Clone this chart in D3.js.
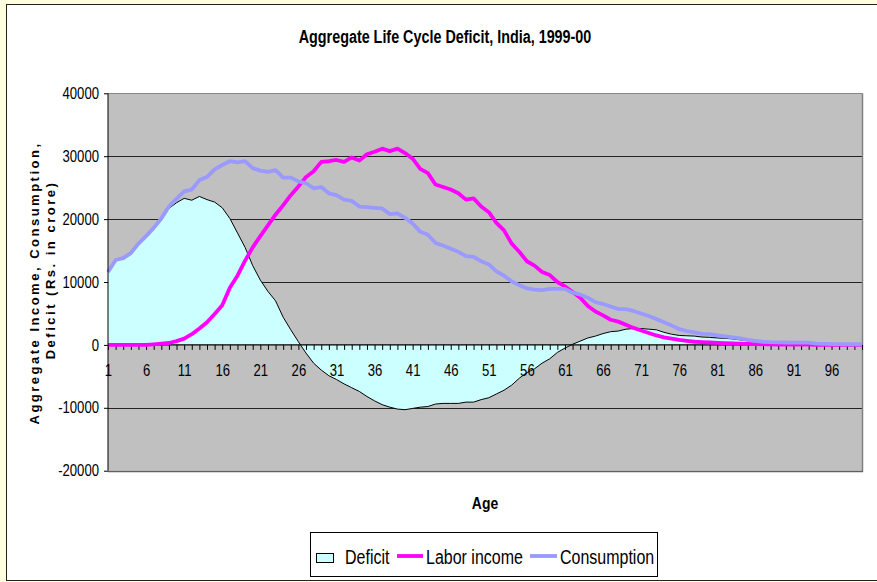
<!DOCTYPE html>
<html>
<head>
<meta charset="utf-8">
<script src="https://cdn.jsdelivr.net/npm/d3@7"></script>
<style>
  html, body { margin: 0; padding: 0; background: #FFFFE0; }
  svg { display: block; }
</style>
</head>
<body>
<svg id="chart" width="877" height="582"></svg>
<script>
const ages = d3.range(1, 101);
const deficit = [11600,13500,13800,14600,16100,17300,18500,19900,21700,22600,
  23300,23000,23600,23100,22700,21800,20100,17800,15500,12600,
  10300,8500,7000,4400,2400,500,-1300,-2900,-4000,-4900,
  -5500,-6200,-6800,-7400,-8200,-8900,-9500,-9900,-10200,-10300,
  -10100,-9900,-9800,-9400,-9300,-9300,-9300,-9100,-9100,-8700,
  -8400,-7800,-7200,-6400,-5300,-4400,-3800,-2900,-2200,-1200,
  -500,100,600,1100,1400,1800,2100,2200,2500,2600,
  2600,2500,2400,2000,1700,1500,1450,1400,1250,1200,
  1100,1050,950,800,650,500,400,350,330,330,
  330,330,320,180,130,110,100,90,90,90];
const laborIncome = [0,0,0,0,0,0,100,200,300,600,
  1000,1700,2600,3600,4900,6300,9100,11000,13400,15500,
  17300,19000,20700,22200,23800,25200,26700,27600,29100,29200,
  29400,29100,29800,29300,30300,30700,31200,30800,31200,30500,
  29600,28000,27300,25500,25100,24700,24100,23100,23300,22000,
  21100,19400,18200,16100,14800,13300,12600,11600,11100,10000,
  9300,8400,7500,6200,5300,4700,4000,3700,3200,2700,
  2300,1900,1500,1200,1000,800,650,500,450,380,
  320,280,230,200,150,120,100,80,60,50,
  40,30,30,20,20,10,10,10,5,5];
const consumption = [11600,13500,13800,14600,16100,17300,18600,20100,22000,23200,
  24400,24700,26200,26700,27900,28600,29200,29000,29200,28100,
  27700,27500,27800,26600,26600,26000,25700,24900,25100,24100,
  23800,23100,22900,22000,21900,21800,21700,20800,20900,20200,
  19300,18000,17500,16200,15800,15300,14800,14100,14000,13300,
  12800,11700,11000,10100,9500,9000,8800,8700,8900,8900,
  8900,8300,8000,7500,6800,6500,6100,5700,5700,5400,
  5000,4600,4100,3600,3100,2500,2200,2000,1750,1700,
  1500,1350,1200,1050,800,650,500,430,400,380,
  370,370,350,200,150,120,110,100,100,100];
const yTicks = [-20000,-10000,0,10000,20000,30000,40000];
const xLabels = [1,6,11,16,21,26,31,36,41,46,51,56,61,66,71,76,81,86,91,96];
const seriesNames = ["Deficit","Labor income","Consumption"];
const titleText = "Aggregate Life Cycle Deficit, India, 1999-00";
const yTitle = ["Aggregate Income, Consumption,", "Deficit (Rs. in crore)"];
const xTitle = "Age";

const FONT = "'Liberation Sans',Arial,sans-serif";
const SX = 0.82; // horizontal condensing to mimic a narrow face
const svg = d3.select("#chart");

// outer chart area
svg.append("rect").attr("x",0).attr("y",0).attr("width",877).attr("height",582).attr("fill","#FFFFE0");
svg.append("rect").attr("x",6.5).attr("y",4.5).attr("width",880).attr("height",576)
  .attr("fill","#fff").attr("stroke","#222").attr("stroke-width",1);

const L = 108, R = 862, T = 93.3, B = 470.7;
const x = d3.scalePoint().domain(ages).range([L, R]);
const y = d3.scaleLinear().domain([-20000, 40000]).range([B, T]);

// plot background
svg.append("rect").attr("x",L).attr("y",T).attr("width",R-L).attr("height",B-T).attr("fill","#C0C0C0");

// gridlines
svg.append("g").selectAll("line").data(yTicks.filter(v => v !== 0 && v !== 40000 && v !== -20000)).join("line")
  .attr("x1",L).attr("x2",R).attr("y1",d=>Math.round(y(d))+0.5).attr("y2",d=>Math.round(y(d))+0.5)
  .attr("stroke","#222").attr("stroke-width",1);
// plot border top/right/bottom
svg.append("line").attr("x1",L).attr("x2",R).attr("y1",Math.round(T)+0.5).attr("y2",Math.round(T)+0.5).attr("stroke","#888");
svg.append("line").attr("x1",R+0.5).attr("x2",R+0.5).attr("y1",T).attr("y2",B+1).attr("stroke","#808080").attr("stroke-width",1.5);
svg.append("line").attr("x1",L).attr("x2",R+1).attr("y1",Math.round(B)+0.5).attr("y2",Math.round(B)+0.5).attr("stroke","#606060").attr("stroke-width",1.5);

// deficit area
const area = d3.area().x((d,i)=>x(ages[i])).y0(y(0)).y1(d=>y(d));
svg.append("path").datum(deficit).attr("d",area).attr("fill","#CCFFFF");
const line = d3.line().x((d,i)=>x(ages[i])).y(d=>y(d));
svg.append("path").datum(deficit).attr("d",line).attr("fill","none").attr("stroke","#000").attr("stroke-width",1);

// x axis at zero
const xAxis = d3.axisBottom(x).tickSize(5).tickPadding(15)
  .tickFormat(d => xLabels.includes(d) ? d : "");
const gx = svg.append("g").attr("transform",`translate(0,${y(0)})`).call(xAxis);
gx.select(".domain").attr("stroke","#000").attr("stroke-width",1.2).attr("d",`M${L},0H${R}`);
gx.selectAll(".tick line").attr("stroke","#000");
gx.selectAll("text").attr("font-family",FONT).attr("font-size","16px").attr("fill","#000")
  .attr("transform",`scale(${SX},1)`);

// lines
svg.append("path").datum(laborIncome).attr("d",line).attr("fill","none")
  .attr("stroke","#FF00FF").attr("stroke-width",3.8).attr("stroke-linejoin","round");
svg.append("path").datum(consumption).attr("d",line).attr("fill","none")
  .attr("stroke","#9999FF").attr("stroke-width",3.8).attr("stroke-linejoin","round");

// y axis
const yAxis = d3.axisLeft(y).tickValues(yTicks).tickSize(4).tickPadding(7).tickFormat(d=>d);
const gy = svg.append("g").attr("transform",`translate(${L},0)`).call(yAxis);
gy.select(".domain").attr("stroke","#000").attr("d",`M0,${T}V${B}`);
gy.selectAll(".tick line").attr("stroke","#000");
gy.selectAll("text").attr("font-family",FONT).attr("font-size","16px").attr("fill","#000")
  .attr("transform",`scale(${SX},1)`);

function narrowText(xp, yp, txt, size, weight, anchor) {
  return svg.append("text").attr("transform",`translate(${xp},${yp}) scale(${SX},1)`)
    .attr("text-anchor",anchor||"start").attr("font-family",FONT)
    .attr("font-weight",weight||"normal").attr("font-size",size).attr("fill","#000").text(txt);
}
// titles
narrowText(445, 43, titleText, "17.5px", "bold", "middle");
narrowText(485, 509, xTitle, "17px", "bold", "middle");
const yt = [[39,283],[55,270]];
yTitle.forEach((t,i)=>{
  svg.append("text").attr("transform",`translate(${yt[i][0]},${yt[i][1]}) rotate(-90)`)
    .attr("text-anchor","middle").attr("font-family",FONT)
    .attr("font-weight","bold").attr("font-size","13px").attr("letter-spacing","2.5px").text(t);
});

// legend
const lg = svg.append("g");
lg.append("rect").attr("x",310.5).attr("y",532.5).attr("width",347).attr("height",44)
  .attr("fill","#fff").attr("stroke","#000");
lg.append("rect").attr("x",316.5).attr("y",553.5).attr("width",17).attr("height",9)
  .attr("fill","#CCFFFF").attr("stroke","#000");
lg.append("line").attr("x1",397).attr("x2",423).attr("y1",556).attr("y2",556).attr("stroke","#FF00FF").attr("stroke-width",3.8);
lg.append("line").attr("x1",530).attr("x2",557).attr("y1",556).attr("y2",556).attr("stroke","#9999FF").attr("stroke-width",3.8);
const legX = [345, 426, 560];
seriesNames.forEach((n,i)=>{ narrowText(legX[i], 564, n, "19.5px"); });
</script>
</body>
</html>
